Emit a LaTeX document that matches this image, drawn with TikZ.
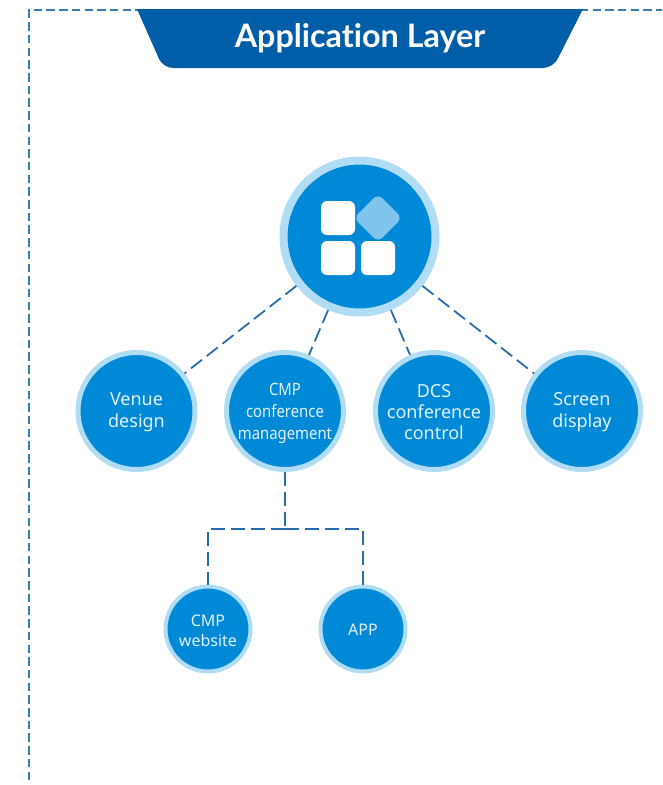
\documentclass[tikz,border=0pt]{standalone}
\usepackage{fontspec}
\setmainfont{Noto Sans}
\newfontfamily\titlefont[Ligatures=NoCommon]{Lato}
\usepackage{tikz}
\definecolor{banner}{HTML}{005DA8}
\definecolor{disc}{HTML}{0089D6}
\definecolor{halo}{HTML}{B0DCF4}
\definecolor{gem}{HTML}{7FC4EC}
\definecolor{wire}{HTML}{2A6CAB}
\definecolor{framewire}{HTML}{3A7DB6}
\definecolor{lettering}{HTML}{E2F2FC}
\tikzset{
    bigdisc/.style={circle,fill=disc,draw=halo,line width=8pt,minimum size=152pt,inner sep=0pt},
    middisc/.style={circle,fill=disc,draw=halo,line width=5pt,minimum size=117pt,inner sep=0pt,
        text=lettering,align=center,text depth=2pt,font=\fontsize{18}{22}\selectfont},
    smalldisc/.style={circle,fill=disc,draw=halo,line width=4pt,minimum size=85pt,inner sep=0pt,
        text=lettering,align=center,text depth=0pt,font=\fontsize{16}{20}\selectfont},
    tile/.style={rectangle,fill=white,rounded corners=6pt,minimum size=34pt,inner sep=0pt},
    wireline/.style={draw=wire,line width=1.8pt,dash pattern=on 14pt off 6pt},
    frameline/.style={draw=framewire,line width=1.5pt,dash pattern=on 8.5pt off 4.2pt}
}
\begin{document}
\begin{tikzpicture}[x=1pt,y=-1pt]
            \useasboundingbox (0,0) rectangle (662,785);

            % Marco
            \coordinate (framebottom) at (29,780);
            \coordinate (framecorner) at (29,10);
            \coordinate (frameend) at (662,10);
            \draw[frameline] (framebottom) -- (framecorner) -- (frameend);

            % Titulo
            \fill[banner] (137,9) -- (583,9) [rounded corners=10pt] -- (553,68) -- (163,68) [rounded corners=0pt] -- cycle;
            \node[text=white,font=\titlefont\fontsize{32.3}{36}\bfseries\selectfont] (title) at (360,38) {Application Layer};

            % Circulos
            \node[bigdisc] (apps) at (359.5,236.5) {};
            \node[middisc] (venue) at (136.5,411) {Venue\\design};
            \node[middisc,text depth=0pt,font=\fontsize{17}{22}\addfontfeature{FakeStretch=0.875}] (cmp) at (285,411) {CMP\\conference\\management};
            \node[middisc,text depth=0pt,text height=57pt,font=\fontsize{18}{21}\selectfont] (dcs) at (434,411) {DCS\\conference\\control};
            \node[middisc] (screen) at (582,411) {Screen\\display};
            \node[smalldisc,text height=34pt] (website) at (208,629) {CMP\\website};
            \node[smalldisc,text height=12pt] (app) at (363,629) {APP};

            % Icono
            \node[tile] (tilea) at (338,218) {};
            \node[tile] (tileb) at (338,258) {};
            \node[tile] (tilec) at (378,258) {};
            \node[tile,fill=gem,rotate=45] (tiled) at (378,218) {};

            % Lineas
            \draw[wireline] (apps) -- (venue);
            \draw[wireline] (apps) -- (cmp);
            \draw[wireline] (apps) -- (dcs);
            \draw[wireline] (apps) -- (screen);
            \coordinate (joint) at (285,529);
            \draw[wireline] (cmp) -- (joint);
            \draw[wireline] (joint) -| (website);
            \draw[wireline] (joint) -| (app);
        \end{tikzpicture}
\end{document}
